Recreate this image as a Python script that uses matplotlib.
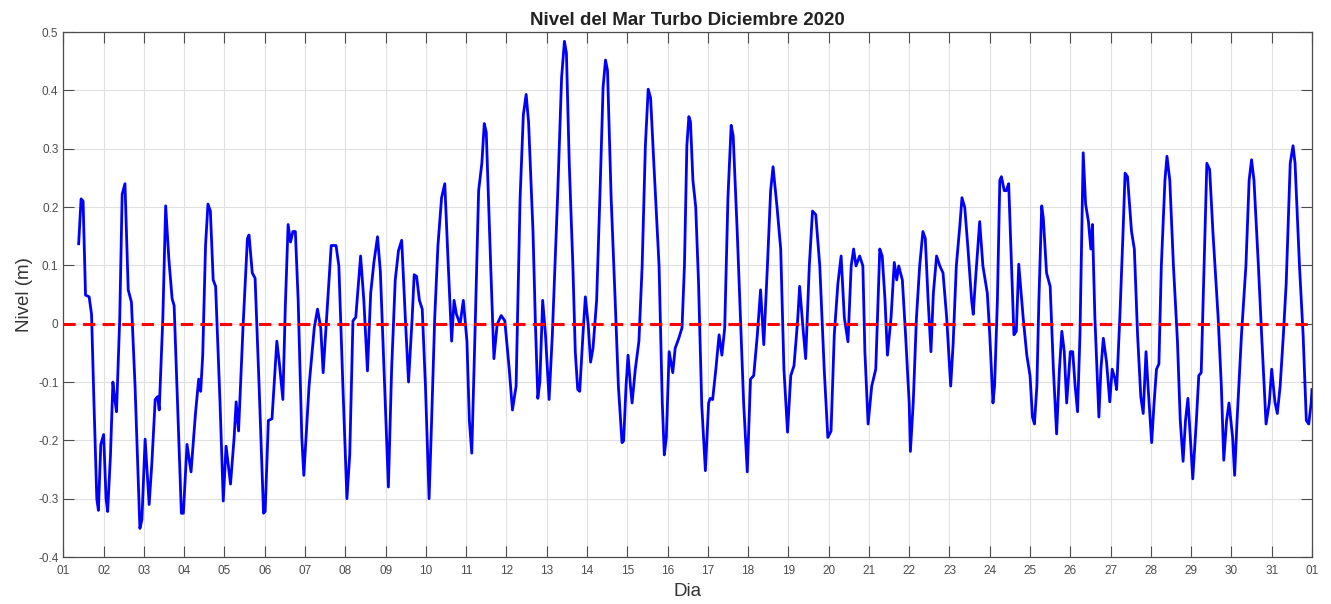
import matplotlib
matplotlib.use("Agg")
import matplotlib.pyplot as plt
import matplotlib.dates as mdates
import pandas as pd

# Tiempo en dias desde 2020-12-01 00:00 y nivel del mar (m)
dia = [
    0.38, 0.44, 0.49, 0.55, 0.64, 0.70, 0.76, 0.83, 0.87, 0.93,
    1.00, 1.06, 1.10, 1.17, 1.23, 1.27, 1.32, 1.40, 1.46, 1.53,
    1.61, 1.69, 1.78, 1.90, 1.95, 2.03, 2.13, 2.20, 2.28, 2.34,
    2.38, 2.47, 2.54, 2.62, 2.70, 2.75, 2.83, 2.93, 2.98, 3.07,
    3.17, 3.28, 3.36, 3.41, 3.46, 3.53, 3.59, 3.65, 3.72, 3.78,
    3.89, 3.97, 4.04, 4.15, 4.24, 4.29, 4.35, 4.46, 4.57, 4.61,
    4.69, 4.76, 4.86, 4.97, 5.01, 5.09, 5.18, 5.30, 5.36, 5.45,
    5.51, 5.58, 5.64, 5.70, 5.76, 5.83, 5.92, 5.97, 6.10, 6.23,
    6.31, 6.39, 6.45, 6.52, 6.65, 6.77, 6.84, 6.94, 7.04, 7.11,
    7.19, 7.26, 7.38, 7.46, 7.55, 7.63, 7.71, 7.80, 7.87, 7.96,
    8.07, 8.15, 8.24, 8.32, 8.40, 8.49, 8.57, 8.66, 8.71, 8.77,
    8.84, 8.91, 8.99, 9.08, 9.13, 9.22, 9.30, 9.39, 9.47, 9.55,
    9.64, 9.70, 9.76, 9.85, 9.93, 10.02, 10.08, 10.14, 10.23, 10.31,
    10.39, 10.45, 10.50, 10.61, 10.69, 10.77, 10.87, 10.96, 11.07, 11.15,
    11.24, 11.34, 11.42, 11.49, 11.55, 11.66, 11.72, 11.78, 11.83, 11.90,
    11.97, 12.06, 12.14, 12.27, 12.37, 12.44, 12.49, 12.56, 12.65, 12.71,
    12.77, 12.82, 12.90, 12.96, 13.03, 13.09, 13.15, 13.24, 13.32, 13.40,
    13.46, 13.51, 13.60, 13.70, 13.78, 13.87, 13.91, 13.97, 14.02, 14.08,
    14.12, 14.20, 14.29, 14.37, 14.45, 14.52, 14.58, 14.66, 14.79, 14.87,
    14.92, 14.97, 15.04, 15.13, 15.19, 15.28, 15.36, 15.42, 15.48, 15.53,
    15.57, 15.63, 15.70, 15.77, 15.85, 15.94, 16.02, 16.06, 16.12, 16.20,
    16.28, 16.35, 16.42, 16.50, 16.58, 16.63, 16.73, 16.81, 16.89, 16.98,
    17.06, 17.14, 17.23, 17.31, 17.39, 17.48, 17.56, 17.62, 17.72, 17.81,
    17.89, 17.98, 18.06, 18.14, 18.23, 18.28, 18.37, 18.43, 18.52, 18.60,
    18.68, 18.78, 18.89, 18.98, 19.06, 19.14, 19.23, 19.31, 19.39, 19.48,
    19.56, 19.62, 19.68, 19.77, 19.85, 19.90, 19.98, 20.07, 20.17, 20.27,
    20.33, 20.40, 20.46, 20.55, 20.63, 20.69, 20.74, 20.83, 20.91, 21.00,
    21.03, 21.10, 21.18, 21.26, 21.34, 21.40, 21.47, 21.54, 21.60, 21.68,
    21.76, 21.84, 21.93, 22.03, 22.09, 22.17, 22.26, 22.31, 22.38, 22.46,
    22.55, 22.59, 22.64, 22.75, 22.83, 22.94, 23.00, 23.08, 23.12, 23.19,
    23.25, 23.29, 23.36, 23.41, 23.47, 23.54, 23.60, 23.66, 23.72, 23.83,
    23.92, 24.00, 24.06, 24.11, 24.17, 24.22, 24.29, 24.33, 24.41, 24.50,
    24.58, 24.66, 24.73, 24.79, 24.85, 24.91, 25.00, 25.06, 25.12, 25.18,
    25.24, 25.32, 25.38, 25.45, 25.51, 25.55, 25.61, 25.71, 25.76, 25.82,
    25.90, 25.98, 26.04, 26.11, 26.15, 26.23, 26.31, 26.36, 26.42, 26.52,
    26.59, 26.67, 26.75, 26.81, 26.88, 26.93, 27.02, 27.08, 27.14, 27.20,
    27.26, 27.35, 27.40, 27.47, 27.56, 27.66, 27.73, 27.80, 27.86, 27.92,
    27.98, 28.04, 28.13, 28.19, 28.25, 28.32, 28.39, 28.46, 28.54, 28.67,
    28.75, 28.81, 28.88, 28.94, 29.03, 29.08, 29.14, 29.25, 29.36, 29.44,
    29.50, 29.56, 29.67, 29.75, 29.86, 29.94, 30.00, 30.08, 30.14, 30.21,
    30.29, 30.36, 30.46, 30.53, 30.58, 30.69, 30.78, 30.86, 30.92, 30.98,
    31.00,
]

nivel = [
    0.137, 0.214, 0.210, 0.049, 0.046, 0.016, -0.136, -0.300, -0.320, -0.207,
    -0.190, -0.300, -0.322, -0.225, -0.100, -0.125, -0.151, 0.010, 0.222, 0.240,
    0.058, 0.037, -0.107, -0.351, -0.336, -0.198, -0.310, -0.236, -0.130, -0.125,
    -0.148, 0.010, 0.202, 0.110, 0.043, 0.031, -0.125, -0.325, -0.325, -0.207,
    -0.254, -0.154, -0.095, -0.116, -0.054, 0.134, 0.205, 0.193, 0.075, 0.064,
    -0.136, -0.304, -0.210, -0.275, -0.195, -0.134, -0.184, -0.007, 0.146, 0.152,
    0.087, 0.078, -0.107, -0.325, -0.322, -0.166, -0.163, -0.030, -0.066, -0.130,
    0.028, 0.170, 0.140, 0.158, 0.158, 0.040, -0.195, -0.260, -0.107, -0.007,
    0.025, -0.007, -0.084, -0.007, 0.134, 0.134, 0.099, -0.107, -0.300, -0.225,
    0.005, 0.011, 0.116, 0.040, -0.081, 0.052, 0.105, 0.149, 0.090, -0.078,
    -0.280, -0.078, 0.075, 0.125, 0.143, 0.010, -0.100, 0.010, 0.084, 0.081,
    0.040, 0.025, -0.107, -0.300, -0.195, 0.010, 0.134, 0.216, 0.240, 0.110,
    -0.030, 0.040, 0.016, -0.001, 0.040, -0.030, -0.166, -0.222, 0.010, 0.228,
    0.275, 0.343, 0.328, 0.099, -0.060, -0.001, 0.014, 0.005, -0.078, -0.148,
    -0.107, 0.216, 0.358, 0.393, 0.346, 0.158, 0.000, -0.128, -0.100, 0.040,
    -0.019, -0.130, -0.019, 0.216, 0.422, 0.484, 0.464, 0.275, 0.099, -0.048,
    -0.113, -0.116, -0.019, 0.046, -0.001, -0.066, -0.042, 0.040, 0.216, 0.405,
    0.452, 0.434, 0.216, 0.040, -0.107, -0.204, -0.201, -0.107, -0.054, -0.107,
    -0.136, -0.078, -0.030, 0.099, 0.305, 0.402, 0.387, 0.275, 0.099, -0.136,
    -0.225, -0.195, -0.048, -0.084, -0.042, -0.025, -0.007, 0.099, 0.305, 0.355,
    0.346, 0.246, 0.200, 0.070, -0.140, -0.252, -0.136, -0.128, -0.130, -0.078,
    -0.019, -0.054, -0.007, 0.216, 0.340, 0.322, 0.158, 0.010, -0.136, -0.254,
    -0.095, -0.089, -0.019, 0.058, -0.036, 0.099, 0.228, 0.269, 0.199, 0.128,
    -0.078, -0.186, -0.089, -0.072, 0.005, 0.064, -0.013, -0.060, 0.099, 0.193,
    0.187, 0.099, -0.078, -0.195, -0.184, -0.019, 0.069, 0.116, 0.010, -0.031,
    0.099, 0.128, 0.099, 0.116, 0.099, -0.048, -0.172, -0.107, -0.078, 0.128,
    0.116, 0.040, -0.054, 0.011, 0.105, 0.075, 0.099, 0.075, -0.019, -0.136,
    -0.219, -0.136, 0.010, 0.099, 0.158, 0.146, 0.040, -0.048, 0.052, 0.116,
    0.099, 0.087, 0.011, -0.107, -0.036, 0.099, 0.170, 0.216, 0.199, 0.128,
    0.040, 0.016, 0.069, 0.175, 0.099, 0.052, -0.019, -0.136, -0.107, 0.040,
    0.246, 0.252, 0.228, 0.228, 0.240, 0.099, -0.019, -0.013, 0.102, 0.010,
    -0.054, -0.089, -0.160, -0.172, -0.107, 0.040, 0.202, 0.181, 0.087, 0.064,
    -0.078, -0.189, -0.078, -0.013, -0.048, -0.136, -0.048, -0.048, -0.107, -0.151,
    -0.019, 0.293, 0.205, 0.175, 0.128, 0.170, 0.011, -0.160, -0.078, -0.025,
    -0.066, -0.134, -0.078, -0.095, -0.113, 0.011, 0.158, 0.258, 0.252, 0.158,
    0.128, -0.019, -0.125, -0.154, -0.048, -0.107, -0.204, -0.136, -0.078, -0.069,
    0.099, 0.246, 0.287, 0.246, 0.100, -0.030, -0.166, -0.236, -0.166, -0.128,
    -0.195, -0.266, -0.166, -0.089, -0.084, 0.099, 0.275, 0.264, 0.158, 0.011,
    -0.107, -0.234, -0.166, -0.136, -0.195, -0.260, -0.166, -0.019, 0.099, 0.246,
    0.281, 0.246, 0.099, -0.019, -0.172, -0.136, -0.078, -0.134, -0.154, -0.107,
    -0.019, 0.069, 0.275, 0.305, 0.275, 0.099, -0.019, -0.166, -0.172, -0.136,
    -0.113,
]

y_ticks = [-0.4, -0.3, -0.2, -0.1, 0, 0.1, 0.2, 0.3, 0.4, 0.5]
y_labels = ["-0.4", "-0.3", "-0.2", "-0.1", "0", "0.1", "0.2", "0.3", "0.4", "0.5"]

plt.rcParams["font.family"] = ["Liberation Sans", "DejaVu Sans"]

inicio = pd.Timestamp("2020-12-01")
fin = pd.Timestamp("2021-01-01")
tiempo = inicio + pd.to_timedelta(dia, unit="D")

fig = plt.figure(figsize=(13.31, 6.04), dpi=100)
ax = fig.add_axes([0.0476, 0.0778, 0.9381, 0.8692])

ax.plot(tiempo, nivel, color="#0000ff", linewidth=2.0, zorder=3)
ax.axhline(0, color="#ff0000", linewidth=2.2, linestyle=(0, (4, 2.4)), zorder=4)

ax.set_xlim(inicio, fin)
ax.set_ylim(-0.4, 0.5)
ax.xaxis.set_major_locator(mdates.DayLocator())
ax.xaxis.set_major_formatter(mdates.DateFormatter("%d"))
ax.set_yticks(y_ticks)
ax.set_yticklabels(y_labels)

ax.grid(True, color="#e0e0e0", linewidth=0.8, zorder=0)
ax.set_axisbelow(True)
ax.tick_params(direction="in", length=8, width=0.8, colors="#4d4d4d",
               labelsize=8.5, top=True, right=True)
ax.tick_params(axis="x", pad=6)
for s in ax.spines.values():
    s.set_color("#4d4d4d")
    s.set_linewidth(0.9)

ax.set_title("Nivel del Mar Turbo Diciembre 2020", fontsize=13.5, fontweight="bold",
             color="#222222", pad=5)
ax.set_ylabel("Nivel (m)", fontsize=13.5, color="#333333", labelpad=4)
ax.set_xlabel("Dia", fontsize=13.5, color="#333333", labelpad=4)

fig.savefig("out.png", dpi=100)
